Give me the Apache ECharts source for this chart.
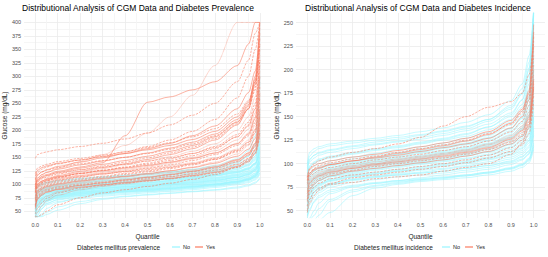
<!DOCTYPE html>
<html>
<head>
<meta charset="utf-8">
<script src="https://cdn.jsdelivr.net/npm/echarts@6/dist/echarts.min.js"></script>
<style>html,body{margin:0;padding:0;background:#fff}#c{width:548px;height:257px}</style>
</head>
<body>
<div id="c"></div>
<script>
// Quantile grid at which each subject's glucose curve was read
const Q = [0, 0.01, 0.03, 0.05, 0.1, 0.2, 0.3, 0.4, 0.5, 0.6, 0.7, 0.8, 0.9, 0.95, 0.98, 1.0];

// Left panel: Diabetes mellitus prevalence
const leftNo = [
  [40,48,60,68,76,82,86,89,92,95,98,101,106,110,115,125],
  [45,60,68,72,78,84,88,91,94,97,100,104,109,114,120,132],
  [50,64,71,75,80,86,90,93,96,99,102,106,112,117,124,138],
  [58,70,76,80,85,90,94,97,100,103,107,111,117,122,130,150],
  [62,74,80,83,88,93,97,100,103,106,110,115,121,127,136,160],
  [70,80,85,88,92,97,101,104,107,110,114,118,125,131,140,170],
  [40,42,55,64,72,79,84,87,90,93,96,100,105,109,114,122],
  [52,66,73,77,82,88,92,95,98,101,104,108,113,118,125,140],
  [66,78,83,87,91,96,100,103,106,109,112,117,123,129,138,165],
  [75,86,90,93,97,102,106,109,112,115,119,124,131,138,148,185],
  [40,40,45,55,66,76,82,86,89,92,95,99,104,108,112,120],
  [60,72,78,82,87,92,96,99,102,105,109,113,119,125,133,155],
  [48,62,70,74,79,85,89,92,95,98,101,105,110,115,121,135],
  [72,82,87,90,94,99,103,106,109,112,116,121,128,134,144,175],
  [64,75,81,85,89,94,98,101,104,107,111,116,122,128,137,158],
  [55,68,75,79,84,89,93,96,99,102,106,110,116,121,128,145],
  [80,88,92,95,99,104,108,111,114,118,122,127,134,141,152,195],
  [44,56,66,71,77,83,87,90,93,96,99,103,108,112,118,128],
  [68,79,84,88,92,97,101,104,107,110,113,118,124,130,139,168],
  [57,70,76,80,85,91,95,98,101,104,108,112,118,124,131,148],
  [40,50,62,69,75,81,85,88,91,94,97,101,106,111,117,130],
  [74,84,89,92,96,101,105,108,111,114,118,123,130,136,146,180],
  [61,73,79,83,88,93,97,100,103,107,111,116,122,129,139,162],
  [53,67,74,78,83,88,92,95,98,101,105,109,115,120,127,143],
  [85,94,98,101,104,108,112,115,118,121,125,130,138,146,158,200],
  [47,60,69,74,80,86,90,93,96,99,103,107,113,118,126,142],
  [78,87,91,94,98,103,107,110,113,117,121,126,134,143,160,230],
  [82,90,94,97,101,106,110,113,116,120,124,130,140,152,175,290],
  [40,40,42,48,58,68,74,78,81,84,87,90,95,99,104,112],
  [40,45,55,62,68,74,78,81,84,87,90,94,99,103,108,118],
  [42,52,60,65,71,77,80,83,86,89,92,96,101,105,110,121],
  [46,58,65,69,74,79,82,85,87,90,93,97,102,107,113,127],
  [40,40,40,44,52,64,72,77,80,83,86,89,93,97,102,110],
  [50,61,67,71,76,80,83,86,88,91,94,98,103,108,115,131],
  [56,66,71,74,78,82,85,87,89,92,95,99,104,109,116,134],
  [62,70,74,77,80,84,87,89,91,93,96,100,105,110,118,140],
  [67,76,80,83,86,90,93,95,97,100,103,107,113,119,128,152],
  [90,98,102,104,107,111,114,117,120,123,127,133,142,152,170,240],
  [76,85,88,91,94,98,101,104,107,110,114,119,127,136,152,215],
  [88,96,100,103,106,110,113,116,119,123,128,135,147,162,190,300]
];
const leftYes = [
  [148,155,158,160,164,170,176,184,195,210,228,250,290,330,380,400],
  [95,108,115,118,124,132,140,190,252,262,275,290,320,360,400,400],
  [100,110,118,122,130,142,155,172,195,225,265,320,400,400,400,400],
  [110,122,128,132,138,145,152,160,170,182,198,220,260,300,350,400],
  [90,100,106,110,116,124,131,138,146,155,166,182,210,240,290,380],
  [85,96,102,106,112,120,126,132,139,147,157,170,192,215,250,330],
  [80,92,98,102,108,115,121,126,132,139,147,158,176,195,225,300],
  [75,88,94,98,104,110,115,120,125,131,138,148,163,178,200,260],
  [70,84,91,95,100,106,111,115,120,125,131,139,152,165,185,240],
  [65,80,87,91,96,102,106,110,114,119,125,132,144,156,172,220],
  [60,76,84,88,93,98,102,106,110,114,119,126,137,148,163,205],
  [100,112,118,122,128,136,143,150,158,167,178,193,220,248,285,350],
  [120,130,134,137,142,148,154,160,168,177,188,203,230,255,290,360],
  [88,98,104,108,114,122,129,136,143,151,161,175,200,225,262,340],
  [78,90,96,100,106,113,119,124,130,136,144,155,172,190,215,280],
  [55,72,80,85,91,98,103,108,113,118,124,132,145,158,176,225],
  [40,48,60,70,80,90,96,101,106,111,117,124,136,147,162,200],
  [92,104,110,113,119,127,134,141,149,158,169,185,212,240,280,400],
  [105,117,123,127,133,141,149,157,166,176,190,208,240,270,310,390],
  [72,86,93,97,102,108,113,118,123,129,136,146,162,178,202,270],
  [82,94,100,104,110,117,123,128,134,141,150,162,182,202,232,310],
  [40,40,44,50,62,75,84,90,96,102,109,118,132,145,165,210],
  [96,106,112,116,122,130,137,144,152,161,172,188,215,245,300,400],
  [68,82,89,93,98,104,109,114,119,125,132,141,156,172,195,250],
  [86,97,103,107,113,120,126,131,137,144,153,166,188,210,240,320],
  [115,126,131,134,139,145,151,157,164,172,183,198,225,252,295,370],
  [62,78,86,90,95,100,104,108,112,117,123,130,142,154,170,215],
  [50,62,72,78,86,94,99,104,109,114,120,128,141,154,172,235],
  [84,95,100,103,108,114,119,123,127,132,138,146,160,174,196,265],
  [92,101,106,109,114,120,125,130,135,141,148,158,175,193,222,300],
  [76,88,93,96,101,106,110,114,118,122,127,134,146,158,176,230],
  [98,108,113,116,121,127,132,137,143,149,157,168,188,208,240,330],
  [58,74,82,86,90,95,99,103,107,111,116,122,133,143,158,195],
  [108,118,123,126,131,138,144,150,157,165,175,190,216,240,275,360],
  [88,99,104,107,111,116,120,124,129,134,140,149,165,182,210,290],
  [45,55,66,74,84,93,98,102,106,110,115,121,131,141,156,190]
];

// Right panel: Diabetes mellitus incidence
const rightNo = [
  [42,50,60,66,72,77,80,82,84,86,88,91,95,99,104,120],
  [45,56,64,69,75,80,83,86,88,90,93,96,101,105,111,130],
  [50,62,69,73,78,83,86,89,91,94,97,100,105,110,117,140],
  [55,66,72,76,81,86,89,92,95,98,101,105,110,116,124,150],
  [60,70,76,80,84,89,93,96,99,102,105,109,115,121,130,160],
  [65,74,79,83,87,92,96,99,102,105,109,113,120,127,137,175],
  [70,78,83,86,90,95,99,102,105,109,113,118,125,133,145,190],
  [75,83,87,90,94,99,103,106,109,113,117,122,131,140,155,210],
  [80,88,92,95,98,103,107,110,114,118,122,128,138,148,168,230],
  [90,98,102,105,108,112,116,119,123,127,132,139,150,163,185,260],
  [98,108,113,116,119,122,125,128,131,135,140,147,160,175,200,265],
  [40,40,45,52,62,72,77,80,83,85,88,91,96,100,106,125],
  [40,42,50,58,68,75,79,82,85,88,91,94,99,104,110,135],
  [58,68,74,78,83,88,91,94,97,100,103,107,113,119,127,155],
  [62,72,78,82,86,91,95,98,101,104,108,112,118,125,134,168],
  [68,77,82,85,89,94,98,101,104,107,111,116,123,130,141,182],
  [72,81,85,88,92,97,101,104,107,111,115,120,128,137,150,200],
  [78,86,90,93,96,101,105,108,112,116,120,125,135,145,162,220],
  [85,93,97,100,103,107,111,115,118,122,127,133,144,156,176,245],
  [52,63,70,74,79,84,87,90,93,95,98,102,107,112,119,145],
  [48,60,67,71,77,82,85,88,90,92,95,98,103,108,114,138],
  [63,73,78,82,86,90,94,97,100,103,106,110,117,123,132,165],
  [74,82,86,89,93,98,102,105,108,112,116,121,129,138,152,205],
  [82,90,94,97,100,105,109,112,116,120,124,130,141,152,172,240],
  [94,102,106,109,112,116,120,123,126,130,135,142,154,168,190,262],
  [40,40,40,45,60,70,76,79,82,84,87,90,95,99,105,122],
  [56,67,73,77,82,87,90,93,96,99,102,106,112,117,125,152],
  [66,76,81,84,88,93,97,100,103,106,110,115,121,129,139,178],
  [88,96,100,103,106,110,114,117,121,125,129,136,147,160,180,250],
  [77,85,89,92,95,100,104,107,111,114,118,124,133,143,158,215],
  [100,112,116,118,121,124,127,130,134,138,144,152,167,185,215,265],
  [92,104,109,112,115,119,123,126,130,134,139,147,162,180,208,262],
  [86,97,101,104,107,111,115,118,122,126,131,139,152,168,195,258],
  [40,40,40,40,48,66,74,78,81,83,85,88,92,96,101,115],
  [44,52,59,64,70,76,79,81,83,85,87,90,94,98,103,118],
  [54,64,70,74,78,83,86,88,90,92,95,98,102,107,113,132],
  [71,80,84,87,91,96,100,103,106,110,114,119,127,136,150,198],
  [96,105,109,111,114,118,121,124,128,132,137,145,158,174,202,262],
  [79,88,92,95,98,102,106,110,113,117,121,127,137,149,170,235],
  [60,70,75,78,82,86,89,92,94,97,100,104,109,114,122,148]
];
const rightYes = [
  [50,62,70,74,79,85,88,91,94,97,101,106,113,120,132,165],
  [60,72,78,82,87,92,95,98,101,104,108,113,121,129,142,180],
  [70,80,85,88,92,96,100,103,106,109,113,118,127,136,150,195],
  [78,86,90,93,96,100,104,107,110,114,118,124,134,145,162,215],
  [83,90,94,96,99,103,107,111,115,119,124,131,143,156,175,240],
  [85,95,100,103,107,112,116,121,128,140,150,160,166,175,195,230],
  [65,76,82,86,90,95,98,101,104,107,111,116,124,133,146,188],
  [55,68,75,79,84,88,91,94,97,100,104,109,117,125,138,172],
  [80,88,93,95,99,103,106,109,113,117,121,127,138,150,168,225],
  [75,84,88,91,94,98,102,105,108,111,115,121,130,140,155,205],
  [48,58,66,72,78,80,84,86,88,92,96,100,110,122,140,185],
  [68,79,84,87,91,95,99,102,105,108,112,117,126,135,148,190],
  [82,90,95,98,101,105,108,112,116,120,125,132,142,154,172,235],
  [72,82,86,89,93,97,100,104,107,110,114,120,128,138,152,200],
  [62,74,80,84,89,93,97,100,103,106,110,115,123,131,144,182],
  [86,94,98,100,103,107,110,114,118,122,127,134,146,158,178,248]
];

// Tick labels
const xTicks = [0,0.1,0.2,0.3,0.4,0.5,0.6,0.7,0.8,0.9,1.0];
const yTicksLeft = [50,75,100,125,150,175,200,225,250,275,300,325,350,375,400];
const yTicksRight = [50,75,100,125,150,175,200,225,250];
const titles = ['Distributional Analysis of CGM Data and Diabetes Prevalence','Distributional Analysis of CGM Data and Diabetes Incidence'];
const legendTitles = ['Diabetes mellitus prevalence','Diabetes mellitus incidence'];
const groups = ['No','Yes'];

const FONT = 'Liberation Sans';
const NO_COLOR = '#98F5FF';
const YES_COLOR = '#FA7B60';
const yesTypes = ['dashed','solid','dotted','dashed','solid','dashed','dotted'];

function withMinor(ticks){
  const out = [];
  for (let i=0;i<ticks.length;i++){
    out.push(ticks[i]);
    if (i<ticks.length-1) out.push(+((ticks[i]+ticks[i+1])/2).toFixed(4));
  }
  return out;
}

function xAxisCfg(gi){
  return {
    type:'value', gridIndex:gi, min:-0.05, max:1.05,
    name:'Quantile', nameLocation:'middle', nameGap:13,
    nameTextStyle:{fontFamily:FONT,fontSize:6.5,color:'#1a1a1a'},
    axisLine:{show:false},
    axisTick:{show:false, customValues: withMinor(xTicks)},
    axisLabel:{customValues:xTicks, margin:4, fontFamily:FONT, fontSize:5.5, color:'#4D4D4D',
      formatter:v=>v.toFixed(1)},
    splitLine:{show:true, lineStyle:{color:['#EBEBEB','#F4F4F4'], width:0.8}}
  };
}
function yAxisCfg(gi, min, max, ticks){
  return {
    type:'value', gridIndex:gi, min:min, max:max,
    name:'Glucose (mg/dL)', nameLocation:'middle', nameRotate:90,
    nameGap: gi===0 ? 13 : 14,
    nameTextStyle:{fontFamily:FONT,fontSize:6.5,color:'#1a1a1a'},
    axisLine:{show:false},
    axisTick:{show:false, customValues: withMinor(ticks)},
    axisLabel:{customValues:ticks, margin:3, fontFamily:FONT, fontSize:5.5, color:'#4D4D4D'},
    splitLine:{show:true, lineStyle:{color:['#EBEBEB','#F4F4F4'], width:0.8}}
  };
}

const series = [];
function addCurves(list, gi, name){
  list.forEach((vals, i) => {
    const isYes = name === 'Yes';
    series.push({
      type:'line', name:name, xAxisIndex:gi, yAxisIndex:gi,
      data: Q.map((q,k)=>[q, vals[k]]),
      showSymbol:false, symbol:'none', smooth:0.3, smoothMonotone:'x',
      clip:true, silent:true, animation:false,
      lineStyle:{color: isYes ? YES_COLOR : NO_COLOR, width: 0.6,
        type: isYes ? yesTypes[i % yesTypes.length] : 'solid', opacity: isYes ? 0.95 : 0.9},
      itemStyle:{color: isYes ? YES_COLOR : NO_COLOR},
      z: isYes ? 3 : 2
    });
  });
}
addCurves(leftNo, 0, 'No');
addCurves(leftYes, 0, 'Yes');
addCurves(rightNo, 1, 'No');
addCurves(rightYes, 1, 'Yes');

const chart = echarts.init(document.getElementById('c'), null, {renderer:'svg'});
chart.setOption({
  backgroundColor:'#ffffff',
  animation:false,
  title:[
    {text:titles[0], left:22, top:3, padding:0, textStyle:{fontFamily:FONT,fontSize:8.5,fontWeight:'normal',color:'#000'}},
    {text:titles[1], left:305, top:3, padding:0, textStyle:{fontFamily:FONT,fontSize:8.5,fontWeight:'normal',color:'#000'}},
    {text:legendTitles[0], left:77, top:244, padding:0, textStyle:{fontFamily:FONT,fontSize:6.5,fontWeight:'normal',color:'#1a1a1a'}},
    {text:legendTitles[1], left:354, top:244, padding:0, textStyle:{fontFamily:FONT,fontSize:6.5,fontWeight:'normal',color:'#1a1a1a'}}
  ],
  legend:[
    {data:groups, left:172, top:244, padding:0, itemWidth:8, itemHeight:1.2, itemGap:5, icon:'rect',
      textStyle:{fontFamily:FONT,fontSize:5.5,color:'#1a1a1a',padding:[0,0,0,-2]}, selectedMode:false},
    {data:groups, left:442, top:244, padding:0, itemWidth:8, itemHeight:1.2, itemGap:5, icon:'rect',
      textStyle:{fontFamily:FONT,fontSize:5.5,color:'#1a1a1a',padding:[0,0,0,-2]}, selectedMode:false}
  ],
  grid:[
    {left:22, top:13, width:249, height:205},
    {left:296, top:13, width:249, height:205}
  ],
  xAxis:[xAxisCfg(0), xAxisCfg(1)],
  yAxis:[yAxisCfg(0, 37.5, 417.5, yTicksLeft), yAxisCfg(1, 42.2, 260.3, yTicksRight)],
  series:series
});
</script>
</body>
</html>
